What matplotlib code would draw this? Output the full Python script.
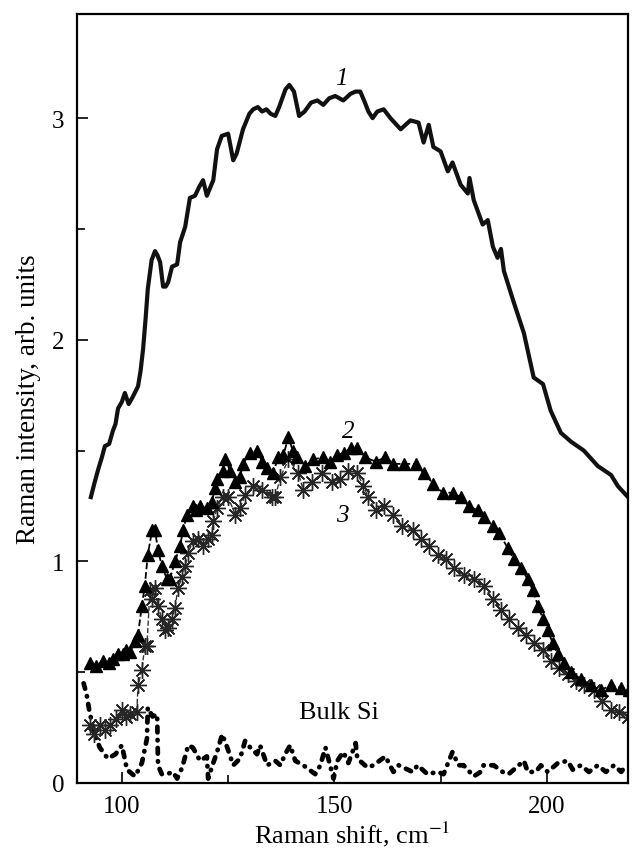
import numpy as np
import matplotlib
matplotlib.use("Agg")
import matplotlib.pyplot as plt
from matplotlib.ticker import MultipleLocator

# curve 1 (solid line)
x1 = [92.7, 93.5, 94.5, 95.3, 96.0, 97.0, 97.9, 98.5, 99.1, 100.0,
      100.7, 101.6, 102.5, 103.8, 104.4, 105.0, 105.6, 106.1, 107.0, 107.8,
      108.4, 109.0, 109.7, 110.3, 110.9, 111.8, 113.0, 113.7, 114.9, 116.0,
      117.2, 118.2, 119.1, 120.0, 121.5, 122.4, 123.5, 125.0, 126.2, 127.0,
      128.5, 130.0, 130.9, 132.0, 133.0, 134.0, 135.0, 136.1, 137.0, 138.5,
      139.4, 140.5, 141.7, 143.0, 144.5, 146.0, 147.4, 148.8, 150.2, 152.1,
      153.8, 155.0, 156.1, 157.2, 158.0, 159.0, 160.1, 161.6, 163.2, 165.6,
      167.9, 169.8, 171.0, 172.2, 173.3, 175.0, 176.7, 177.8, 179.7, 181.4,
      181.8, 182.8, 184.9, 186.1, 187.3, 188.4, 189.2, 189.9, 192.2, 194.6,
      196.9, 199.1, 200.9, 203.3, 205.7, 208.7, 212.0, 215.1, 216.7, 219.1]
y1 = [1.29, 1.35, 1.42, 1.47, 1.52, 1.53, 1.59, 1.62, 1.69, 1.72,
      1.76, 1.71, 1.74, 1.79, 1.86, 1.96, 2.10, 2.23, 2.36, 2.40,
      2.38, 2.35, 2.24, 2.24, 2.26, 2.33, 2.34, 2.44, 2.51, 2.64,
      2.65, 2.69, 2.72, 2.65, 2.72, 2.86, 2.92, 2.93, 2.81, 2.84,
      2.95, 3.02, 3.04, 3.05, 3.03, 3.04, 3.02, 3.01, 3.05, 3.13,
      3.15, 3.12, 3.01, 3.03, 3.07, 3.08, 3.06, 3.09, 3.10, 3.08,
      3.11, 3.12, 3.12, 3.07, 3.03, 3.00, 3.03, 3.04, 3.00, 2.95,
      2.99, 2.98, 2.89, 2.97, 2.87, 2.85, 2.76, 2.80, 2.70, 2.66,
      2.73, 2.63, 2.52, 2.54, 2.42, 2.37, 2.41, 2.31, 2.17, 2.03,
      1.83, 1.80, 1.68, 1.58, 1.54, 1.50, 1.43, 1.39, 1.34, 1.29]

# curve 2 (triangles)
x2 = [92.5, 94.0, 95.5, 97.0, 97.9, 99.0, 100.2, 101.0, 101.9, 103.1,
      103.8, 104.7, 105.4, 106.1, 107.1, 107.8, 108.5, 109.4, 110.6, 111.3,
      112.5, 113.7, 114.4, 115.3, 116.7, 117.5, 118.4, 120.0, 121.2, 121.9,
      122.4, 123.8, 124.3, 125.5, 126.7, 127.8, 128.5, 130.2, 131.8, 133.0,
      134.2, 135.6, 136.8, 138.0, 139.2, 140.2, 141.3, 143.2, 145.0, 147.4,
      149.0, 150.7, 152.3, 153.8, 155.4, 157.3, 159.7, 162.0, 163.9, 166.3,
      169.1, 171.0, 173.3, 175.5, 177.8, 179.7, 181.6, 183.7, 185.1, 187.3,
      188.7, 190.8, 192.2, 193.9, 195.5, 196.7, 197.9, 199.1, 200.2, 201.4,
      202.6, 204.0, 205.7, 208.0, 210.4, 212.7, 215.1, 217.5, 219.3]
y2 = [0.54, 0.53, 0.55, 0.54, 0.56, 0.58, 0.58, 0.60, 0.59, 0.64,
      0.67, 0.80, 0.89, 1.03, 1.14, 1.14, 1.05, 0.98, 0.92, 0.92,
      1.00, 1.07, 1.14, 1.21, 1.25, 1.23, 1.25, 1.24, 1.27, 1.33,
      1.37, 1.41, 1.46, 1.41, 1.36, 1.38, 1.44, 1.49, 1.50, 1.45,
      1.42, 1.40, 1.47, 1.48, 1.56, 1.50, 1.47, 1.43, 1.46, 1.47,
      1.45, 1.48, 1.49, 1.51, 1.51, 1.47, 1.45, 1.47, 1.44, 1.44,
      1.44, 1.40, 1.35, 1.31, 1.31, 1.29, 1.25, 1.23, 1.20, 1.16,
      1.13, 1.06, 1.01, 0.97, 0.92, 0.87, 0.80, 0.74, 0.69, 0.63,
      0.58, 0.54, 0.50, 0.47, 0.44, 0.42, 0.44, 0.43, 0.42]

# curve 3 (asterisks)
x3 = [92.5, 93.5, 94.8, 96.0, 97.2, 98.5, 100.0, 101.0, 101.9, 103.5,
      103.8, 104.7, 105.4, 105.9, 106.6, 107.1, 107.8, 108.5, 109.4, 110.1,
      110.8, 111.8, 112.5, 113.2, 114.2, 114.9, 115.6, 116.7, 117.9, 119.1,
      120.3, 121.2, 121.5, 122.4, 123.8, 125.0, 126.7, 127.8, 129.0, 130.9,
      133.0, 135.4, 136.1, 137.3, 139.2, 141.5, 142.7, 144.8, 147.2, 149.5,
      151.4, 153.3, 155.4, 156.8, 158.0, 159.7, 161.6, 163.9, 166.0, 168.4,
      170.3, 172.2, 174.3, 176.2, 178.1, 180.4, 182.8, 185.1, 187.3, 189.2,
      191.0, 193.2, 195.0, 196.9, 199.1, 200.9, 202.8, 204.9, 206.8, 208.7,
      211.1, 213.0, 215.0, 217.0, 219.0]
y3 = [0.26, 0.22, 0.26, 0.24, 0.26, 0.29, 0.33, 0.30, 0.31, 0.32,
      0.44, 0.51, 0.62, 0.62, 0.87, 0.83, 0.88, 0.80, 0.74, 0.69,
      0.70, 0.74, 0.79, 0.88, 0.93, 0.98, 1.04, 1.09, 1.10, 1.07,
      1.10, 1.12, 1.18, 1.24, 1.29, 1.29, 1.21, 1.24, 1.30, 1.34,
      1.32, 1.29, 1.29, 1.38, 1.46, 1.40, 1.32, 1.36, 1.40, 1.36,
      1.37, 1.41, 1.40, 1.34, 1.29, 1.23, 1.25, 1.21, 1.16, 1.14,
      1.10, 1.07, 1.03, 1.01, 0.97, 0.94, 0.92, 0.89, 0.83, 0.78,
      0.74, 0.70, 0.67, 0.63, 0.60, 0.55, 0.52, 0.49, 0.46, 0.44,
      0.42, 0.37, 0.33, 0.32, 0.30]

# bulk Si (dash-dot)
xb = [91.0, 91.7, 92.3, 93.2, 94.0, 94.8, 96.7, 98.5, 100.0, 101.2,
      103.1, 104.7, 105.9, 106.1, 107.2, 108.3, 108.5, 109.4, 110.6, 112.0,
      113.0, 114.2, 115.6, 116.7, 118.4, 120.0, 120.3, 121.5, 122.4, 123.6,
      124.8, 126.2, 127.8, 129.0, 130.2, 131.8, 132.5, 134.2, 136.1, 137.3,
      138.4, 139.6, 140.8, 142.7, 144.8, 145.5, 146.7, 147.9, 149.8, 150.7,
      152.1, 153.3, 155.0, 155.4, 157.8, 159.2, 162.0, 163.9, 165.1, 168.4,
      169.6, 171.9, 174.3, 175.7, 177.8, 179.2, 180.4, 182.8, 184.4, 185.1,
      187.5, 189.6, 191.0, 194.6, 195.5, 197.4, 198.6, 200.2, 202.6, 204.9,
      206.1, 208.0, 209.9, 212.0, 213.9, 215.8, 217.5, 218.6]
yb = [0.45, 0.40, 0.33, 0.25, 0.20, 0.16, 0.11, 0.13, 0.17, 0.06,
      0.03, 0.09, 0.20, 0.34, 0.30, 0.31, 0.08, 0.04, 0.04, 0.05,
      0.02, 0.07, 0.17, 0.16, 0.10, 0.12, 0.02, 0.09, 0.14, 0.22,
      0.16, 0.08, 0.11, 0.19, 0.16, 0.13, 0.17, 0.08, 0.10, 0.08,
      0.13, 0.17, 0.10, 0.08, 0.05, 0.04, 0.08, 0.16, 0.02, 0.10,
      0.14, 0.09, 0.18, 0.11, 0.07, 0.08, 0.12, 0.05, 0.08, 0.05,
      0.08, 0.04, 0.05, 0.04, 0.14, 0.08, 0.08, 0.03, 0.05, 0.08,
      0.08, 0.05, 0.04, 0.10, 0.05, 0.05, 0.08, 0.05, 0.09, 0.10,
      0.06, 0.08, 0.05, 0.08, 0.05, 0.08, 0.05, 0.08]

plt.rcParams['font.family'] = ['Liberation Serif', 'DejaVu Serif']
plt.rcParams['mathtext.fontset'] = 'stix'

fig = plt.figure(figsize=(6.35, 8.53), dpi=100)
ax = fig.add_axes([0.121, 0.0809, 0.868, 0.9015])

ax.plot(xb, yb, color='black', lw=3.4, solid_capstyle='round',
        dash_capstyle='round', linestyle=(0, (1.2, 1.6, 0.1, 1.6)))
ax.plot(x3, y3, color='#333333', lw=1.0, linestyle='--',
        marker=(8, 2, 0), markersize=12, markeredgewidth=1.0,
        markeredgecolor='#262626')
ax.plot(x2, y2, color='black', lw=1.3, linestyle='--',
        marker='^', markersize=9, markerfacecolor='black',
        markeredgecolor='black')
ax.plot(x1, y1, color='#111111', lw=3.0, solid_joinstyle='round')

ax.set_xlim(89.4, 219.1)
ax.set_ylim(0, 3.47)
ax.xaxis.set_major_locator(MultipleLocator(50))
ax.xaxis.set_minor_locator(MultipleLocator(25))
ax.yaxis.set_major_locator(MultipleLocator(1))
ax.yaxis.set_minor_locator(MultipleLocator(0.5))
ax.tick_params(which='both', direction='in', top=False, right=False,
               width=1.2, labelsize=18, pad=9)
ax.tick_params(which='major', length=8)
ax.tick_params(which='minor', length=6)
for s in ax.spines.values():
    s.set_linewidth(1.6)

ax.set_xlabel('Raman shift, cm$^{\u22121}$', fontsize=19, labelpad=1)
ax.set_ylabel('Raman intensity, arb. units', fontsize=19.5, labelpad=8)

ax.text(151.7, 3.18, '1', fontsize=18, style='italic', ha='center', va='center')
ax.text(153.3, 1.59, '2', fontsize=18, style='italic', ha='center', va='center')
ax.text(151.9, 1.21, '3', fontsize=18, style='italic', ha='center', va='center')
ax.text(151.0, 0.32, 'Bulk Si', fontsize=19, ha='center', va='center')

fig.savefig('out.png', dpi=100)
